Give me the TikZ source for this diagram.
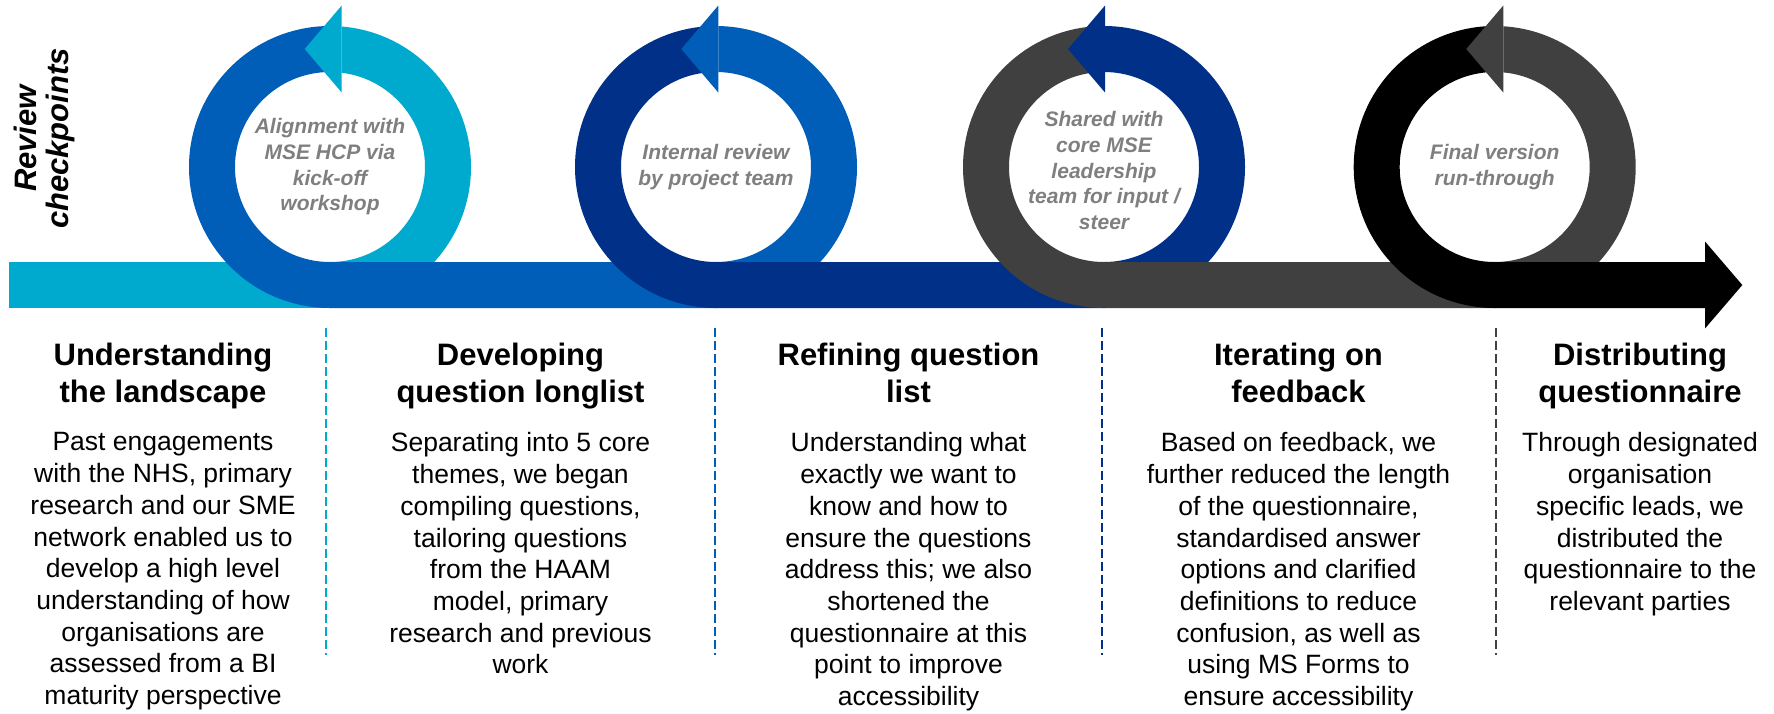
\documentclass[tikz,border=0pt]{standalone}
\usepackage{fontspec}
\setmainfont{Liberation Sans}
\usetikzlibrary{calc}
\definecolor{caqua}{HTML}{00A9CE}
\definecolor{cblue}{HTML}{005EB8}
\definecolor{cnavy}{HTML}{003087}
\definecolor{cdark}{HTML}{404040}
\definecolor{cgrey}{HTML}{7F7F7F}
\tikzset{
  stagehead/.style={font=\bfseries\fontsize{31}{37}\selectfont, align=center, anchor=north, inner sep=0pt},
  stagebody/.style={font=\fontsize{26.5}{31.7}\selectfont, align=center, anchor=north, inner sep=0pt},
  checknote/.style={font=\bfseries\itshape\fontsize{21}{25.7}\selectfont, text=cgrey, align=center, inner sep=0pt},
  sidelabel/.style={font=\bfseries\itshape\fontsize{31}{32}\selectfont, align=center, inner sep=0pt},
  divider/.style={line width=2pt, dash pattern=on 9pt off 4pt},
}
\newcommand{\ringloop}[5]{% #1 = centre x, #2 = back of head from centre, #3 = colour in, #4 = colour out, #5 = x where the out band stops
  \fill[fill=#3] (#1,-308) arc[start angle=-90, end angle={acos(#2/141)}, radius=141]
    -- ({#1+#2},{-167+sqrt(95*95-#2*#2)}) arc[start angle={acos(#2/95)}, end angle=-90, radius=95] -- cycle;
  \draw[draw=#4, line width=46pt] (#1,-49) arc[start angle=90, end angle=270, radius=118] -- (#5,-285);
  \fill[fill=#3] ({#1+#2},-5.5) -- ({#1+#2-37},-49) -- ({#1+#2},-92.5) -- cycle;}

\begin{document}
\begin{tikzpicture}[x=1pt, y=1pt]
  \useasboundingbox (0,0) rectangle (1774,-713);
  % band and loops
  \fill[caqua] (9,-262) rectangle (330,-308);
  \foreach \cx/\d/\cin/\cout/\nx in {330/11.7/caqua/cblue/716, 716/2.3/cblue/cnavy/1104,
      1104/1/cnavy/cdark/1494.7, 1494.7/8.6/cdark/black/1705} {
    \ringloop{\cx}{\d}{\cin}{\cout}{\nx} }
  \fill[black] (1705,-241.5) -- (1742.3,-285) -- (1705,-328.5) -- cycle;
  % review checkpoints
  \node[sidelabel, rotate=90] (review) at (44.5,-138.5) {Review\\checkpoints};
  \node[checknote] (note1) at (330,-167) {Alignment with\\MSE HCP via\\kick-off\\workshop};
  \node[checknote] (note2) at (716,-167) {Internal review\\by project team};
  \node[checknote] (note3) at (1104,-170.5) {Shared with\\core MSE\\leadership\\team for input /\\steer};
  \node[checknote] (note4) at (1494.7,-167) {Final version\\run-through};
  % dividers
  \draw[divider, draw=caqua] (326,-328) -- (326,-655);
  \draw[divider, draw=cblue] (715,-328) -- (715,-655);
  \draw[divider, draw=cnavy] (1102,-328) -- (1102,-655);
  \draw[divider, draw=cdark] (1496,-328) -- (1496,-655);
  % stages
  \node[stagehead] (head1) at (163,-342.5) {Understanding\\the landscape};
  \node[stagebody] (body1) at (163,-432.5) {Past engagements\\with the NHS, primary\\research and our SME\\network enabled us to\\develop a high level\\understanding of how\\organisations are\\assessed from a BI\\maturity perspective};
  \node[stagehead] (head2) at (520.5,-342.5) {Developing\\question longlist};
  \node[stagebody] (body2) at (520.5,-432.5) {Separating into 5 core\\themes, we began\\compiling questions,\\tailoring questions\\from the HAAM\\model, primary\\research and previous\\work};
  \node[stagehead] (head3) at (908.5,-342.5) {Refining question\\list};
  \node[stagebody] (body3) at (908.5,-432.5) {Understanding what\\exactly we want to\\know and how to\\ensure the questions\\address this; we also\\shortened the\\questionnaire at this\\point to improve\\accessibility};
  \node[stagehead] (head4) at (1298.5,-342.5) {Iterating on\\feedback};
  \node[stagebody] (body4) at (1298.5,-432.5) {Based on feedback, we\\further reduced the length\\of the questionnaire,\\standardised answer\\options and clarified\\definitions to reduce\\confusion, as well as\\using MS Forms to\\ensure accessibility};
  \node[stagehead] (head5) at (1640,-342.5) {Distributing\\questionnaire};
  \node[stagebody] (body5) at (1640,-432.5) {Through designated\\organisation\\specific leads, we\\distributed the\\questionnaire to the\\relevant parties};
\end{tikzpicture}
\end{document}
